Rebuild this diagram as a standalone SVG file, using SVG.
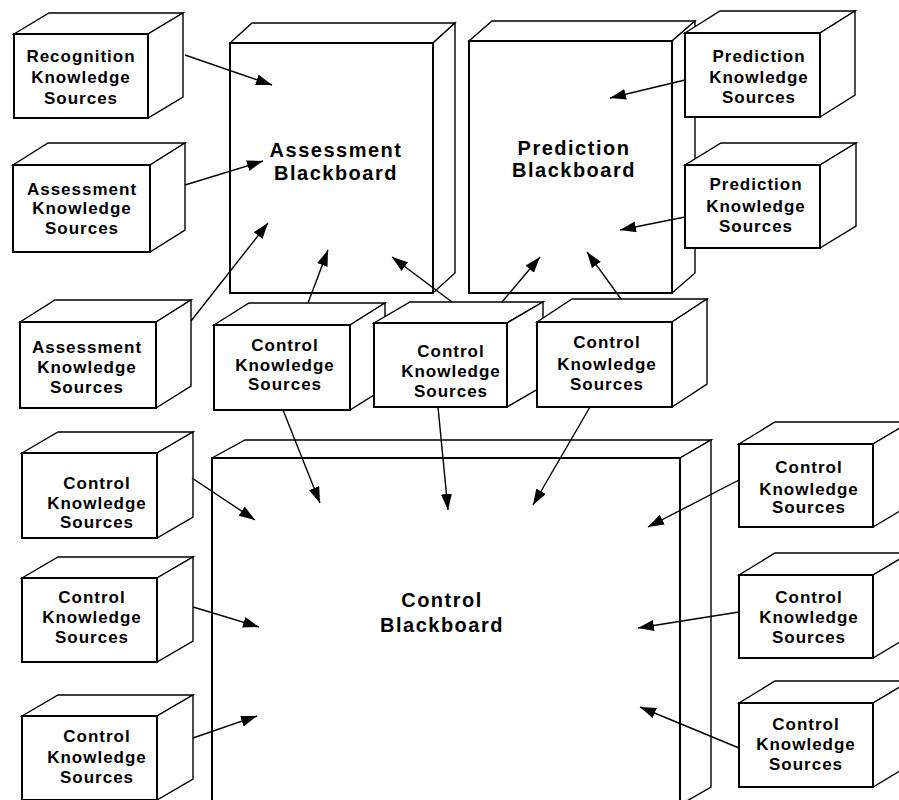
<svg xmlns="http://www.w3.org/2000/svg" width="899" height="800" viewBox="0 0 899 800">
<defs>
<style>
.f{fill:#fff;stroke:#000;stroke-width:2;stroke-linejoin:miter}
.d{fill:#fff;stroke:#000;stroke-width:1.4}
.t{font-family:"Liberation Sans",Arial,sans-serif;font-weight:bold;font-size:17px;letter-spacing:1px;text-anchor:middle;fill:#000}
.bt{font-family:"Liberation Sans",Arial,sans-serif;font-weight:bold;font-size:20px;letter-spacing:1.5px;text-anchor:middle;fill:#000}
.c{stroke:#000;stroke-width:1.4;fill:none;marker-end:url(#ah)}
</style>
<marker id="ah" markerUnits="userSpaceOnUse" markerWidth="17" markerHeight="12" refX="16" refY="5.5" orient="auto">
<path d="M0,0 L16,5.5 L0,11 Z" fill="#000"/>
</marker>
</defs>
<rect width="899" height="800" fill="#fff"/>

<g id="assessment-blackboard">
<polygon class="d" points="230,43 252,23 455,23 433,43"/>
<polygon class="d" points="433,43 455,23 455,273 433,293"/>
<rect class="f" x="230" y="43" width="203" height="250"/>
<text class="bt" x="336" y="157">Assessment</text>
<text class="bt" x="336" y="180">Blackboard</text>
</g>

<g id="prediction-blackboard">
<polygon class="d" points="469,41 492,21 695,21 672,41"/>
<polygon class="d" points="672,41 695,21 695,273 672,293"/>
<rect class="f" x="469" y="41" width="203" height="252"/>
<text class="bt" x="574" y="155">Prediction</text>
<text class="bt" x="574" y="177">Blackboard</text>
</g>

<g id="control-blackboard">
<polygon class="d" points="212,458 245,440 711,440 680,458"/>
<polygon class="d" points="680,458 711,440 711,787 680,805"/>
<rect class="f" x="212" y="458" width="468" height="360"/>
<text class="bt" x="442" y="607">Control</text>
<text class="bt" x="442" y="632">Blackboard</text>
</g>

<g id="recognition-ks">
<polygon class="d" points="14,34 49,13 183,13 148,34"/>
<polygon class="d" points="148,34 183,13 183,97 148,118"/>
<rect class="f" x="14" y="34" width="134" height="84"/>
<text class="t" x="81" y="62">Recognition</text>
<text class="t" x="81" y="83">Knowledge</text>
<text class="t" x="81" y="104">Sources</text>
</g>

<g id="assessment-ks-1">
<polygon class="d" points="13,165 48,143 185,143 150,165"/>
<polygon class="d" points="150,165 185,143 185,230 150,252"/>
<rect class="f" x="13" y="165" width="137" height="87"/>
<text class="t" x="82" y="195">Assessment</text>
<text class="t" x="82" y="214">Knowledge</text>
<text class="t" x="82" y="234">Sources</text>
</g>

<g id="assessment-ks-2">
<polygon class="d" points="20,322 55,300 191,300 156,322"/>
<polygon class="d" points="156,322 191,300 191,386 156,408"/>
<rect class="f" x="20" y="322" width="136" height="86"/>
<text class="t" x="87" y="353">Assessment</text>
<text class="t" x="87" y="373">Knowledge</text>
<text class="t" x="87" y="393">Sources</text>
</g>

<g id="control-ks-top-1">
<polygon class="d" points="214,325 249,303 385,303 350,325"/>
<polygon class="d" points="350,325 385,303 385,388 350,410"/>
<rect class="f" x="214" y="325" width="136" height="85"/>
<text class="t" x="285" y="351">Control</text>
<text class="t" x="285" y="371">Knowledge</text>
<text class="t" x="285" y="390">Sources</text>
</g>

<g id="control-ks-top-2">
<polygon class="d" points="374,323 410,302 543,302 507,323"/>
<polygon class="d" points="507,323 543,302 543,386 507,407"/>
<rect class="f" x="374" y="323" width="133" height="84"/>
<text class="t" x="451" y="357">Control</text>
<text class="t" x="451" y="377">Knowledge</text>
<text class="t" x="451" y="397">Sources</text>
</g>

<g id="control-ks-top-3">
<polygon class="d" points="537,322 572,299 707,299 672,322"/>
<polygon class="d" points="672,322 707,299 707,384 672,407"/>
<rect class="f" x="537" y="322" width="135" height="85"/>
<text class="t" x="607" y="348">Control</text>
<text class="t" x="607" y="370">Knowledge</text>
<text class="t" x="607" y="390">Sources</text>
</g>

<g id="prediction-ks-1">
<polygon class="d" points="685,33 720,11 855,11 820,33"/>
<polygon class="d" points="820,33 855,11 855,95 820,117"/>
<rect class="f" x="685" y="33" width="135" height="84"/>
<text class="t" x="759" y="62">Prediction</text>
<text class="t" x="759" y="83">Knowledge</text>
<text class="t" x="759" y="103">Sources</text>
</g>

<g id="prediction-ks-2">
<polygon class="d" points="685,165 721,143 856,143 820,165"/>
<polygon class="d" points="820,165 856,143 856,226 820,248"/>
<rect class="f" x="685" y="165" width="135" height="83"/>
<text class="t" x="756" y="190">Prediction</text>
<text class="t" x="756" y="212">Knowledge</text>
<text class="t" x="756" y="232">Sources</text>
</g>

<g id="control-ks-left-1">
<polygon class="d" points="22,453 58,432 193,432 157,453"/>
<polygon class="d" points="157,453 193,432 193,517 157,538"/>
<rect class="f" x="22" y="453" width="135" height="85"/>
<text class="t" x="97" y="489">Control</text>
<text class="t" x="97" y="509">Knowledge</text>
<text class="t" x="97" y="528">Sources</text>
</g>

<g id="control-ks-left-2">
<polygon class="d" points="22,578 58,557 193,557 157,578"/>
<polygon class="d" points="157,578 193,557 193,641 157,662"/>
<rect class="f" x="22" y="578" width="135" height="84"/>
<text class="t" x="92" y="603">Control</text>
<text class="t" x="92" y="623">Knowledge</text>
<text class="t" x="92" y="643">Sources</text>
</g>

<g id="control-ks-left-3">
<polygon class="d" points="22,716 58,695 193,695 157,716"/>
<polygon class="d" points="157,716 193,695 193,779 157,800"/>
<rect class="f" x="22" y="716" width="135" height="84"/>
<text class="t" x="97" y="742">Control</text>
<text class="t" x="97" y="763">Knowledge</text>
<text class="t" x="97" y="783">Sources</text>
</g>

<g id="control-ks-right-1">
<polygon class="d" points="739,444 775,422 910,422 873,444"/>
<polygon class="d" points="873,444 910,422 910,505 873,527"/>
<rect class="f" x="739" y="444" width="134" height="83"/>
<text class="t" x="809" y="473">Control</text>
<text class="t" x="809" y="495">Knowledge</text>
<text class="t" x="809" y="513">Sources</text>
</g>

<g id="control-ks-right-2">
<polygon class="d" points="739,575 775,553 910,553 873,575"/>
<polygon class="d" points="873,575 910,553 910,636 873,658"/>
<rect class="f" x="739" y="575" width="134" height="83"/>
<text class="t" x="809" y="603">Control</text>
<text class="t" x="809" y="623">Knowledge</text>
<text class="t" x="809" y="643">Sources</text>
</g>

<g id="control-ks-right-3">
<polygon class="d" points="739,703 775,681 910,681 873,703"/>
<polygon class="d" points="873,703 910,681 910,765 873,787"/>
<rect class="f" x="739" y="703" width="134" height="84"/>
<text class="t" x="806" y="730">Control</text>
<text class="t" x="806" y="750">Knowledge</text>
<text class="t" x="806" y="770">Sources</text>
</g>

<g id="connectors">
<line class="c" x1="185" y1="55" x2="272" y2="85"/>
<line class="c" x1="185" y1="185" x2="263" y2="161"/>
<line class="c" x1="191" y1="321" x2="268" y2="223"/>
<line class="c" x1="308" y1="303" x2="328" y2="250"/>
<line class="c" x1="452" y1="302" x2="392" y2="257"/>
<line class="c" x1="502" y1="302" x2="540" y2="257"/>
<line class="c" x1="621" y1="299" x2="587" y2="252"/>
<line class="c" x1="685" y1="80" x2="610" y2="98"/>
<line class="c" x1="685" y1="217" x2="620" y2="230"/>
<line class="c" x1="283" y1="410" x2="320" y2="503"/>
<line class="c" x1="438" y1="407" x2="448" y2="510"/>
<line class="c" x1="590" y1="407" x2="533" y2="505"/>
<line class="c" x1="192" y1="478" x2="255" y2="520"/>
<line class="c" x1="193" y1="607" x2="259" y2="627"/>
<line class="c" x1="193" y1="738" x2="257" y2="716"/>
<line class="c" x1="739" y1="480" x2="648" y2="527"/>
<line class="c" x1="739" y1="612" x2="638" y2="628"/>
<line class="c" x1="739" y1="748" x2="640" y2="707"/>
</g>
</svg>
